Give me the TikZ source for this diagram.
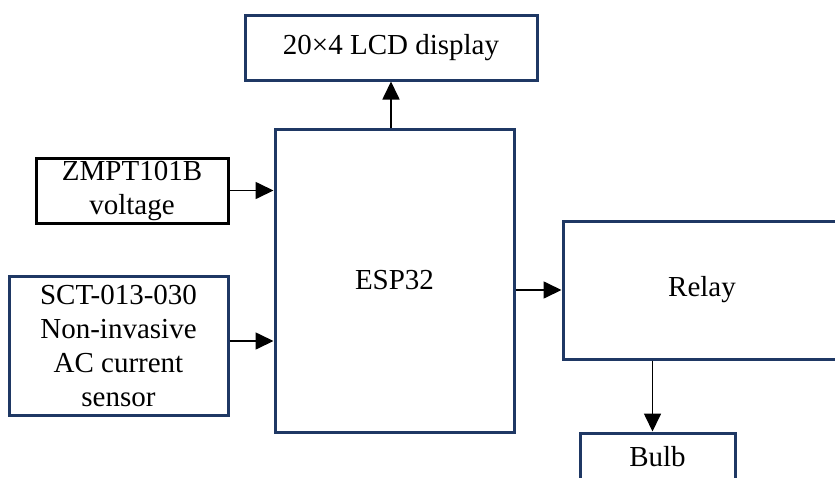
\documentclass[tikz,border=0pt]{standalone}
\usepackage{fontspec}
\setmainfont{Liberation Serif}
\usetikzlibrary{arrows.meta}
\definecolor{navy}{RGB}{31,56,100}
\begin{document}
\begin{tikzpicture}[x=1pt,y=-1pt,
  blk/.style={draw=navy,line width=3pt,rectangle,inner sep=0pt,align=center,
    font=\fontsize{29}{34}\selectfont},
  blkk/.style={blk,draw=black},
  arr/.style={line width=1.7pt,-{Triangle[length=18pt,width=17pt]}}]
\useasboundingbox (0,0) rectangle (835,477);
\clip (0,0) rectangle (835,477);
\fill[white] (0,0) rectangle (835,477);
\node[blk,minimum width=292pt,minimum height=65pt] (lcd) at (391,47.5) {20×4 LCD display};
\node[blk,minimum width=239pt,minimum height=303pt] (esp) at (394.5,280.5) {\raisebox{-4pt}{ESP32}};
\node[blkk,minimum width=192pt,minimum height=65pt] (zmpt) at (132,190.5) {ZMPT101B\\voltage};
\node[blk,minimum width=219pt,minimum height=139pt] (sct) at (118.5,345.5) {SCT-013-030\\Non-invasive\\AC current\\sensor};
\node[blk,minimum width=278pt,minimum height=138pt] (relay) at (702,290) {Relay};
\node[blk,minimum width=155pt,minimum height=48pt] (bulb) at (657.5,457) {Bulb};
\draw[arr] (zmpt.east) -- (zmpt.east -| esp.west);
\draw[arr] ([yshift=4.5pt]sct.east) -- ([yshift=4.5pt]sct.east -| esp.west);
\draw[arr] (lcd.south |- esp.north) -- (lcd.south);
\draw[arr] (esp.east |- relay.west) -- (relay.west);
\draw[arr] ([xshift=-5pt]bulb.north |- relay.south) -- ([xshift=-5pt]bulb.north);
\end{tikzpicture}
\end{document}
